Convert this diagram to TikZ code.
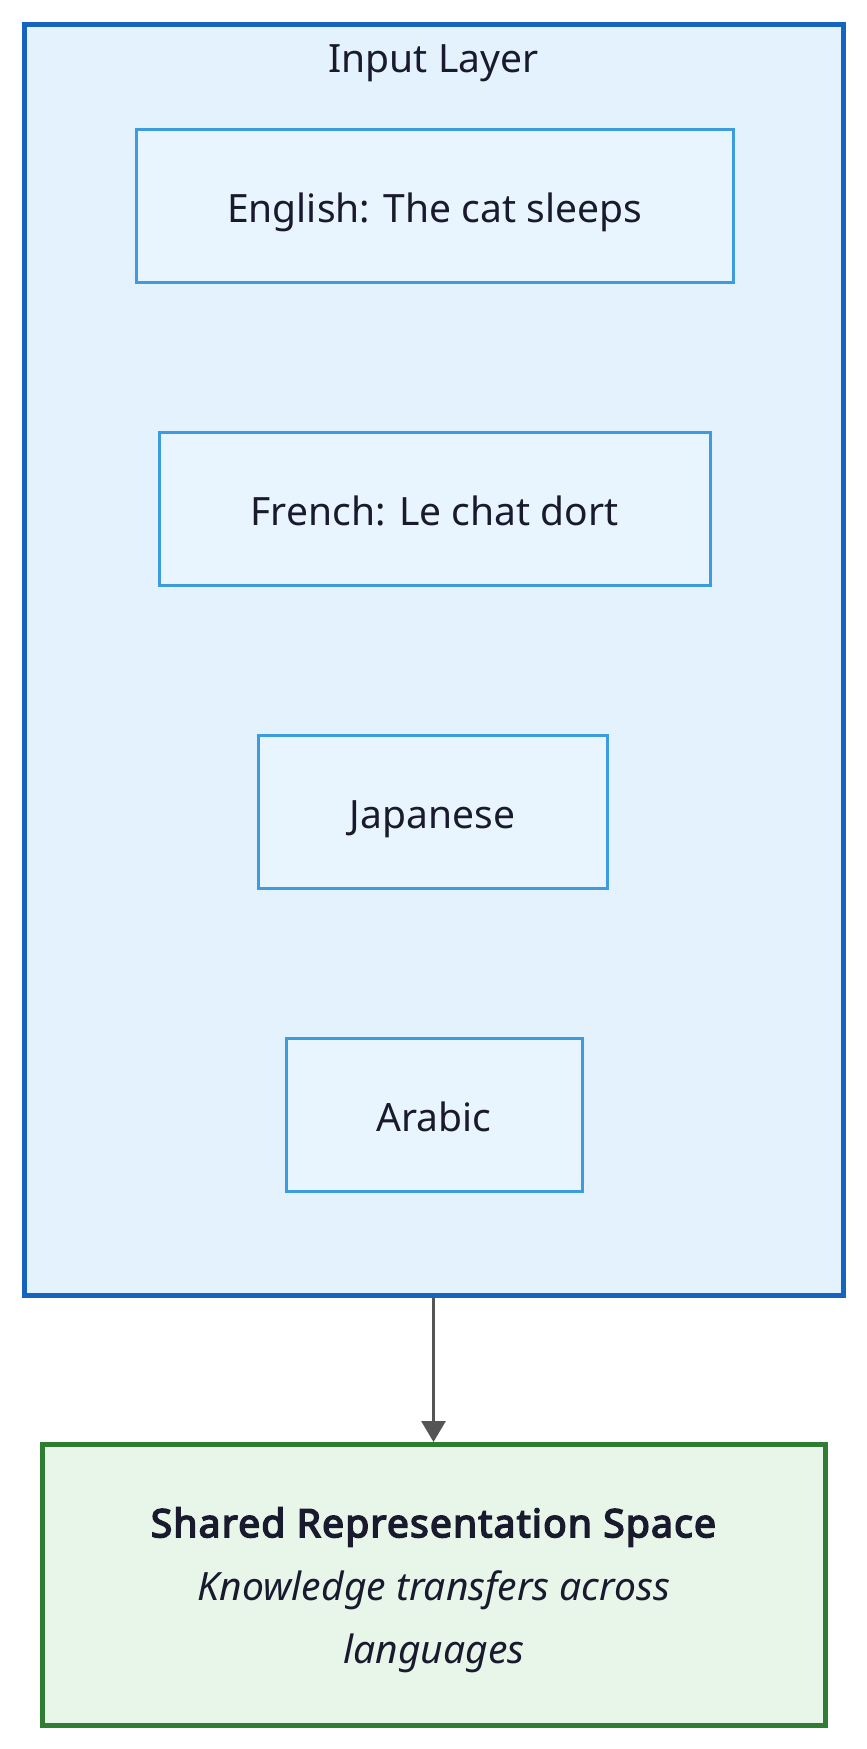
\documentclass[tikz,border=0pt]{standalone}
\usepackage{fontspec}
\setmainfont{Noto Sans}[BoldFont={Noto Sans},BoldFeatures={FakeBold=4,LetterSpace=3}]
\usetikzlibrary{arrows.meta}
\definecolor{layerfill}{HTML}{E3F2FD}
\definecolor{layerdraw}{HTML}{1565C0}
\definecolor{langfill}{HTML}{E8F4FE}
\definecolor{langdraw}{HTML}{3D9BE0}
\definecolor{sharedfill}{HTML}{E8F5E9}
\definecolor{shareddraw}{HTML}{2E7D32}
\definecolor{inktext}{HTML}{1A1A2E}
\definecolor{arrowgray}{HTML}{555555}
\begin{document}
\begin{tikzpicture}[x=1pt,y=-1pt,
    layerbox/.style={draw=layerdraw,fill=layerfill,line width=5pt,minimum width=819pt,minimum height=1271pt,inner sep=0pt},
    langbox/.style={draw=langdraw,fill=langfill,line width=3pt,minimum height=153pt,inner sep=0pt,text height=33pt,text depth=0pt,text=inktext,font=\fontsize{39}{47}\selectfont},
    sharedbox/.style={draw=shareddraw,fill=sharedfill,line width=5pt,minimum width=783pt,minimum height=281pt,inner sep=0pt},
    sharedtext/.style={inner sep=0pt,text=inktext,align=center,font=\fontsize{39}{63}\selectfont}]
    \useasboundingbox (0,0) rectangle (867,1749);
    \node[layerbox] (inputlayer) at (433.5,659.5) {};
    \node[anchor=base,text=inktext,font=\fontsize{39}{47}\selectfont] (layertitle) at (433.5,72) {Input Layer};
    \node[langbox,minimum width=597pt] (english) at (434.5,205.5) {English: The cat sleeps};
    \node[langbox,minimum width=551pt] (french) at (434.5,508.5) {French: Le chat dort};
    \node[langbox,minimum width=349pt] (japanese) at (432.5,811.5) {Japanese};
    \node[langbox,minimum width=296pt] (arabic) at (434,1114.5) {Arabic};
    \node[sharedbox] (shared) at (434,1585) {};
    \node[sharedtext] (sharedlabel) at (434,1590) {\textbf{Shared Representation Space}\\\textit{Knowledge transfers across}\\\textit{languages}};
    \draw[arrowgray,line width=3pt,-{Triangle[length=21pt,width=24pt]}] (inputlayer.south) -- (inputlayer.south |- shared.north);
\end{tikzpicture}
\end{document}
